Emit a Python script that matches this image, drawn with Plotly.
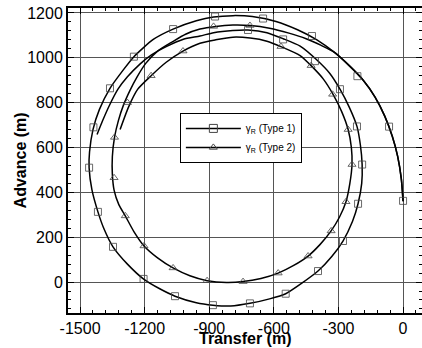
import plotly.graph_objects as go

# ---- Type 1 trajectory ----
t1_x = [0, -8, -25, -50, -85, -130, -185, -250, -320, -400, -490, -590, -700, -790,
        -880, -960, -1068, -1160, -1250, -1300, -1361, -1410, -1440, -1456, -1458, -1445,
        -1417, -1390, -1347, -1280, -1203, -1130, -1059, -960, -883, -800, -711, -620,
        -545, -470, -395, -330, -279, -235, -209, -192, -190, -198, -214, -250, -293,
        -340, -400, -478, -557, -632, -720, -790, -880, -943, -1020, -1100, -1170, -1222,
        -1280, -1324, -1365, -1395, -1421]
t1_y = [360, 460, 560, 650, 740, 825, 900, 965, 1025, 1080, 1125, 1162, 1184, 1188,
        1182, 1165, 1128, 1082, 1005, 945, 864, 770, 680, 580, 510, 412,
        313, 240, 157, 80, 12, -30, -63, -92, -103, -107, -95, -75,
        -52, -5, 49, 115, 183, 270, 349, 440, 524, 610, 694, 780, 860,
        930, 990, 1052, 1085, 1112, 1124, 1122, 1112, 1097, 1083, 1050, 1012, 972,
        915, 860, 785, 720, 658]

# ---- Type 2 trajectory ----
t2_x = [0, -8, -25, -50, -85, -130, -185, -250, -320, -380, -450, -530, -620, -710,
        -790, -870, -943, -1010, -1070, -1140, -1195, -1235, -1268, -1298, -1322, -1340,
        -1350, -1350, -1342, -1320, -1290, -1250, -1203, -1140, -1068, -990, -910, -820,
        -743, -660, -580, -510, -441, -385, -334, -295, -265, -247, -237, -240, -255,
        -285, -325, -370, -427, -478, -567, -632, -710, -790, -870, -943, -1022, -1100,
        -1170, -1232, -1275, -1314]
t2_y = [360, 460, 560, 650, 740, 825, 900, 965, 1025, 1055, 1085, 1110, 1132, 1144,
        1146, 1140, 1128, 1105, 1072, 1030, 975, 915, 855, 790, 720, 645,
        560, 480, 410, 345, 295, 225, 161, 108, 63, 28, 6, -2,
        2, 16, 40, 73, 116, 168, 228, 290, 358, 440, 524, 600, 680,
        760, 837, 905, 965, 1010, 1050, 1074, 1088, 1092, 1080, 1065, 1030, 980,
        920, 860, 780, 680]

# ---- marker positions ----
sq_x = [0, -65, -212, -423, -650, -873, -1068, -1250, -1361, -1438, -1458, -1417, -1347,
        -1205, -1059, -883, -711, -545, -395, -279, -209, -190, -214, -293, -409, -557, -720]
sq_y = [362, 693, 918, 1097, 1175, 1184, 1128, 1005, 864, 690, 510, 313, 157,
        14, -63, -103, -95, -52, 49, 183, 349, 524, 694, 860, 985, 1082, 1124]
tr_x = [-327, -255, -237, -265, -334, -441, -580, -743, -910, -1068, -1203, -1290, -1342,
        -1340, -1280, -1170, -1022, -567, -427, -711, -880]
tr_y = [837, 680, 524, 358, 228, 116, 40, 2, 6, 63, 161, 295, 465,
        645, 800, 920, 1030, 1050, 965, 1144, 1140]

x_ticks = [-1500, -1200, -900, -600, -300, 0]
x_ticktext = ["-1500", "-1200", "-900", "-600", "-300", "0"]
y_ticks = [0, 200, 400, 600, 800, 1000, 1200]
names = ["γ<sub>R</sub> (Type 1)", "γ<sub>R</sub> (Type 2)"]
x_title = "Transfer (m)"
y_title = "Advance (m)"

fig = go.Figure()
line_style = dict(color="black", width=1.5, shape="spline", smoothing=0.6)
fig.add_trace(go.Scatter(x=t1_x, y=t1_y, mode="lines", line=line_style,
                         showlegend=False, hoverinfo="skip"))
fig.add_trace(go.Scatter(x=t2_x, y=t2_y, mode="lines", line=line_style,
                         showlegend=False, hoverinfo="skip"))
fig.add_trace(go.Scatter(x=sq_x, y=sq_y, mode="markers", showlegend=False,
                         marker=dict(symbol="square-open", size=7, color="#444",
                                     line=dict(width=0.8))))
fig.add_trace(go.Scatter(x=tr_x, y=tr_y, mode="markers", showlegend=False,
                         marker=dict(symbol="triangle-up-open", size=7, color="#444",
                                     line=dict(width=0.8))))
# legend entries
fig.add_trace(go.Scatter(x=[None], y=[None], mode="lines+markers", name=names[0],
                         line=dict(color="black", width=1.5),
                         marker=dict(symbol="square-open", size=8, color="#444")))
fig.add_trace(go.Scatter(x=[None], y=[None], mode="lines+markers", name=names[1],
                         line=dict(color="black", width=1.5),
                         marker=dict(symbol="triangle-up-open", size=7, color="#444")))

font_fam = "Liberation Sans, Arial"
axis_common = dict(showline=True, linecolor="black", linewidth=2, mirror="ticks",
                   ticks="inside", ticklen=6, tickwidth=1, tickcolor="black",
                   showgrid=True, gridcolor="#555", gridwidth=1, zeroline=False,
                   automargin=False,
                   tickfont=dict(family=font_fam, size=16, color="black"))

fig.update_layout(
    width=422, height=348,
    margin=dict(l=68, r=0, t=8, b=35, autoexpand=False),
    paper_bgcolor="white", plot_bgcolor="white",
    xaxis=dict(range=[-1556, 88], tickvals=x_ticks, ticktext=x_ticktext,
               minor=dict(dtick=60, tick0=0, ticks="inside", ticklen=3, tickcolor="black", showgrid=False),
               **axis_common),
    yaxis=dict(range=[-138, 1222], tickvals=y_ticks,
               minor=dict(dtick=40, tick0=0, ticks="inside", ticklen=3, tickcolor="black", showgrid=False),
               **axis_common),
    legend=dict(x=0.316, y=0.656, xanchor="left", yanchor="top",
                bgcolor="white", bordercolor="black", borderwidth=1,
                font=dict(family=font_fam, size=10, color="black"),
                itemwidth=55, tracegroupgap=0),
    annotations=[
        dict(text="<b>" + x_title + "</b>", xref="paper", yref="paper", x=0.5, y=-0.083,
             xanchor="center", yanchor="middle", showarrow=False,
             font=dict(family=font_fam, size=16, color="black")),
        dict(text="<b>" + y_title + "</b>", xref="paper", yref="paper", x=-0.133, y=0.5,
             xanchor="center", yanchor="middle", showarrow=False, textangle=-90,
             font=dict(family=font_fam, size=16, color="black")),
    ],
)

fig.write_html("out.html", config={"displayModeBar": False},
               post_script="document.body.style.margin='0';document.body.style.overflow='hidden';")
